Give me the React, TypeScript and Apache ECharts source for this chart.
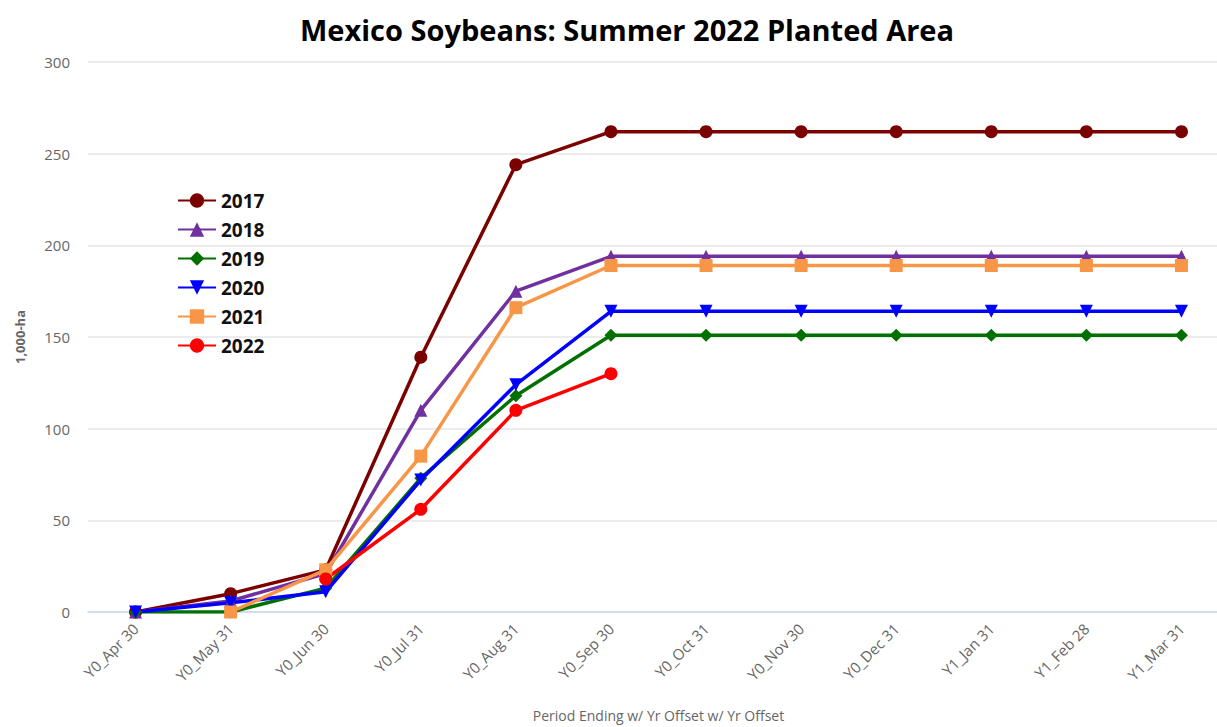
import React, { useEffect, useRef } from "react";
import * as echarts from "echarts";

const categories = [
  "Y0_Apr 30", "Y0_May 31", "Y0_Jun 30", "Y0_Jul 31", "Y0_Aug 31", "Y0_Sep 30",
  "Y0_Oct 31", "Y0_Nov 30", "Y0_Dec 31", "Y1_Jan 31", "Y1_Feb 28", "Y1_Mar 31",
];
const s2017 = [0, 10, 23, 139, 244, 262, 262, 262, 262, 262, 262, 262];
const s2018 = [0, 6, 21, 110, 175, 194, 194, 194, 194, 194, 194, 194];
const s2019 = [0, 0, 13, 73, 118, 151, 151, 151, 151, 151, 151, 151];
const s2020 = [0, 5, 11, 72, 124, 164, 164, 164, 164, 164, 164, 164];
const s2021 = [null, 0, 23, 85, 166, 189, 189, 189, 189, 189, 189, 189];
const s2022 = [null, null, 18, 56, 110, 130, null, null, null, null, null, null];
const yTicks = [0, 50, 100, 150, 200, 250, 300];

const seriesDefs = [
  { name: "2017", data: s2017, color: "#7b0000", symbol: "circle", size: 13, rotate: 0 },
  { name: "2018", data: s2018, color: "#7030a0", symbol: "triangle", size: 13, rotate: 0 },
  { name: "2019", data: s2019, color: "#007000", symbol: "diamond", size: 13, rotate: 0 },
  { name: "2020", data: s2020, color: "#0000ff", symbol: "triangle", size: 13, rotate: 180 },
  { name: "2021", data: s2021, color: "#f79646", symbol: "rect", size: 13, rotate: 0 },
  { name: "2022", data: s2022, color: "#ff0000", symbol: "circle", size: 13, rotate: 0 },
];

export default function App() {
  const ref = useRef<HTMLDivElement>(null);
  useEffect(() => {
    document.body.style.margin = "0";
    document.body.style.overflow = "hidden";
    const chart = echarts.init(ref.current!, null, { renderer: "svg" });
    chart.setOption({
      animation: false,
      backgroundColor: "#ffffff",
      title: {
        text: "Mexico Soybeans: Summer 2022 Planted Area",
        left: 622,
        textAlign: "center",
        top: 10,
        textStyle: { fontFamily: "Open Sans", fontWeight: "bold", fontSize: 29, color: "#000" },
      },
      legend: {
        orient: "vertical",
        left: 172,
        top: 186,
        itemGap: 10,
        itemWidth: 38,
        itemHeight: 18,
        textStyle: { fontFamily: "Open Sans", fontWeight: "bold", fontSize: 19, color: "#111" },
        data: seriesDefs.map((s) => s.name),
      },
      grid: { left: 88, right: 0, top: 62, bottom: 103 },
      xAxis: {
        type: "category",
        data: categories,
        boundaryGap: true,
        name: "Period Ending w/ Yr Offset w/ Yr Offset",
        nameLocation: "middle",
        nameGap: 96,
        nameTextStyle: { fontFamily: "Open Sans", fontSize: 14, color: "#666" },
        axisLine: { lineStyle: { color: "#ccd6eb", width: 1.5 } },
        axisTick: { show: false },
        axisLabel: {
          rotate: 45,
          interval: 0,
          margin: 14,
          fontFamily: "Open Sans",
          fontSize: 15,
          color: "#666",
        },
      },
      yAxis: {
        type: "value",
        min: 0,
        max: 300,
        interval: 50,
        name: "1,000-ha",
        nameLocation: "middle",
        nameGap: 62,
        nameRotate: 90,
        nameTextStyle: { fontFamily: "Open Sans", fontSize: 13, fontWeight: "bold", color: "#666" },
        axisLine: { show: false },
        axisTick: { show: false },
        axisLabel: {
          fontFamily: "Open Sans",
          fontSize: 15,
          color: "#666",
          margin: 18,
          formatter: (v: number) => (yTicks.includes(v) ? String(v) : ""),
        },
        splitLine: { lineStyle: { color: "#e6e6e6", width: 1.5 } },
      },
      series: seriesDefs.map((s) => ({
        name: s.name,
        type: "line",
        data: s.data,
        symbol: s.symbol,
        symbolSize: s.size,
        symbolRotate: s.rotate,
        showAllSymbol: true,
        connectNulls: false,
        color: s.color,
        lineStyle: { color: s.color, width: 3.5 },
        itemStyle: { color: s.color },
      })),
    });
    return () => chart.dispose();
  }, []);
  return <div ref={ref} style={{ width: 1229, height: 727 }} />;
}
